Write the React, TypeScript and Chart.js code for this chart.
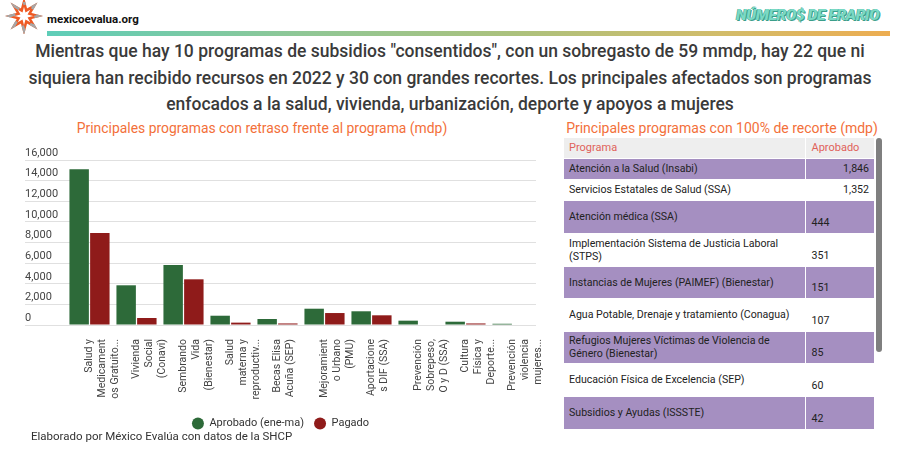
import React, { useEffect, useRef } from "react";
import { Chart, registerables } from "chart.js";

Chart.register(...registerables);

// ---------- DATA ----------
const categories: string[][] = [
  ["Salud y", "Medicament", "os Gratuito..."],
  ["Vivienda", "Social", "(Conavi)"],
  ["Sembrando", "Vida", "(Bienestar)"],
  ["Salud", "materna y", "reproductiv..."],
  ["Becas Elisa", "Acuña (SEP)"],
  ["Mejoramient", "o Urbano", "(PMU)"],
  ["Aportacione", "s DIF (SSA)"],
  ["Prevención", "Sobrepeso,", "O y D (SSA)"],
  ["Cultura", "Física y", "Deporte..."],
  ["Prevención", "violencia", "mujeres..."],
];
const aprobado = [15100, 3850, 5820, 900, 580, 1580, 1330, 420, 320, 120];
const pagado = [8920, 680, 4430, 230, 150, 1160, 940, 0, 150, 0];
const yMin = 0;
const yMax = 16000;
const yStep = 2000;
const seriesNames = ["Aprobado (ene-ma)", "Pagado"];

const tablePrograms = [
  "Atención a la Salud (Insabi)",
  "Servicios Estatales de Salud (SSA)",
  "Atención médica (SSA)",
  "Implementación Sistema de Justicia Laboral (STPS)",
  "Instancias de Mujeres (PAIMEF) (Bienestar)",
  "Agua Potable, Drenaje y tratamiento (Conagua)",
  "Refugios Mujeres Víctimas de Violencia de Género (Bienestar)",
  "Educación Física de Excelencia (SEP)",
  "Subsidios y Ayudas (ISSSTE)",
];
const tableAprobado = [1846, 1352, 444, 351, 151, 107, 85, 60, 42];

const titleLines = [
  'Mientras que hay 10 programas de subsidios "consentidos", con un sobregasto de 59 mmdp, hay 22 que ni',
  "siquiera han recibido recursos en 2022 y 30 con grandes recortes. Los principales afectados son programas",
  "enfocados a la salud, vivienda, urbanización, deporte y apoyos a mujeres",
];

const GREEN = "#2d6a39";
const RED = "#8f1b1a";
const PURPLE = "#a58fc1";
const ORANGE = "#f3703a";
const FONT = "Roboto, 'Noto Sans', sans-serif";

function BarChart() {
  const ref = useRef<HTMLCanvasElement | null>(null);
  useEffect(() => {
    if (!ref.current) return;
    const chart = new Chart(ref.current, {
      type: "bar",
      data: {
        labels: categories,
        datasets: [
          { label: seriesNames[0], data: aprobado, backgroundColor: GREEN, borderWidth: 0 },
          { label: seriesNames[1], data: pagado, backgroundColor: RED, borderWidth: 0 },
        ],
      },
      options: {
        animation: false,
        responsive: false,
        maintainAspectRatio: false,
        layout: { padding: { left: 25, right: 24, top: 20, bottom: 0 } },
        datasets: { bar: { categoryPercentage: 0.88, barPercentage: 0.94 } },
        plugins: {
          legend: {
            position: "bottom",
            labels: {
              usePointStyle: true,
              pointStyle: "circle",
              pointStyleWidth: 12,
              boxHeight: 8.5,
              padding: 10,
              color: "#333",
              font: { family: FONT, size: 11 },
            },
          },
          tooltip: { enabled: false },
        },
        scales: {
          x: {
            grid: { display: false },
            border: { display: false },
            ticks: {
              autoSkip: false,
              maxRotation: 90,
              minRotation: 90,
              padding: 6,
              color: "#444",
              font: { family: FONT, size: 10.5, lineHeight: 13 / 10.5 },
              labelOffset: (ctx: any) => -((categories[ctx.index]?.length ?? 1) - 1) * 13 / 2,
            },
            afterFit: (s: any) => {
              s.height = 83;
            },
          },
          y: {
            min: yMin,
            max: yMax,
            border: { display: false },
            grid: { color: "#e0e0e0", tickLength: 41, drawTicks: true },
            ticks: {
              stepSize: yStep,
              crossAlign: "far",
              labelOffset: -7,
              padding: 0,
              color: "#444",
              font: { family: FONT, size: 11 },
              callback: (v: any) => Number(v).toLocaleString("en-US"),
            },
            afterFit: (s: any) => {
              s.width = 41;
            },
          },
        },
      } as any,
    });
    return () => chart.destroy();
  }, []);
  return (
    <canvas
      ref={ref}
      width={560}
      height={299}
      style={{ position: "absolute", left: 0, top: 140, width: 560, height: 299 }}
    />
  );
}

function Logo() {
  const pts: string[] = [];
  const cx = 24, cy = 16, R = 14, r = 6;
  for (let i = 0; i < 16; i++) {
    const a = (Math.PI * 2 * i) / 16 - Math.PI / 2;
    const rr = i % 2 === 0 ? R : r;
    pts.push(`${(cx + rr * Math.cos(a)).toFixed(1)},${(cy + rr * Math.sin(a)).toFixed(1)}`);
  }
  return (
    <svg width={48} height={34} style={{ position: "absolute", left: 0, top: 0 }}>
      <polygon points={pts.join(" ")} fill="none" stroke="#ef5a24" strokeWidth={2.6} strokeLinejoin="miter" />
      <polygon points={pts.join(" ")} fill="none" stroke="#a6a6a6" strokeWidth={2.6} strokeDasharray="6 12" strokeDashoffset={3} />
    </svg>
  );
}

const rowHeights = [21, 21, 33, 33, 32, 33, 32, 33, 33];

export default function App() {
  return (
    <div
      style={{
        position: "fixed",
        left: 0,
        top: 0,
        width: 900,
        height: 454,
        background: "#fff",
        fontFamily: FONT,
        overflow: "hidden",
      }}
    >
      <Logo />
      <div style={{ position: "absolute", left: 47, top: 12, fontSize: 11.5, fontWeight: 700, color: "#111" }}>
        mexicoevalua.org
      </div>
      <div
        style={{
          position: "absolute",
          left: 47,
          top: 31,
          width: 843,
          height: 5,
          background: "linear-gradient(90deg, #5ecdb8 0%, #8fc796 30%, #abc17d 55%, #d2bc6a 80%, #edad51 100%)",
        }}
      />
      <div
        style={{
          position: "absolute",
          left: 736,
          top: 6,
          fontSize: 15.5,
          fontWeight: 900,
          fontStyle: "italic",
          color: "#7ad9c4",
          letterSpacing: -0.4,
          textShadow: "1px 1px 0 #3b9e8a, -0.5px -0.5px 0 #3b9e8a",
          whiteSpace: "nowrap",
        }}
      >
        NÚMERO$ DE ERARIO
      </div>

      <div
        style={{
          position: "absolute",
          left: 0,
          top: 38,
          width: 900,
          textAlign: "center",
          fontSize: 17.5,
          lineHeight: "26.5px",
          fontWeight: 500,
          color: "#3a3a3a",
          whiteSpace: "nowrap",
        }}
      >
        {titleLines.map((l, i) => (
          <div key={i}>{l}</div>
        ))}
      </div>

      <div
        style={{
          position: "absolute",
          left: 0,
          top: 120,
          width: 524,
          textAlign: "center",
          fontSize: 13.9,
          lineHeight: "16px",
          color: ORANGE,
          whiteSpace: "nowrap",
        }}
      >
        Principales programas con retraso frente al programa (mdp)
      </div>

      <BarChart />

      <div style={{ position: "absolute", left: 31, top: 429, fontSize: 11.5, color: "#333", whiteSpace: "nowrap" }}>
        Elaborado por México Evalúa con datos de la SHCP
      </div>

      <div
        style={{
          position: "absolute",
          left: 544,
          top: 120,
          width: 356,
          textAlign: "center",
          fontSize: 14,
          lineHeight: "16px",
          color: ORANGE,
          whiteSpace: "nowrap",
        }}
      >
        Principales programas con 100% de recorte (mdp)
      </div>

      <div style={{ position: "absolute", left: 564, top: 138, width: 310, height: 292, overflow: "hidden" }}>
        <table
          style={{
            borderCollapse: "collapse",
            width: 310,
            tableLayout: "fixed",
            fontSize: 10.6,
            color: "#222",
          }}
        >
          <colgroup>
            <col style={{ width: 241 }} />
            <col style={{ width: 69 }} />
          </colgroup>
          <thead>
            <tr style={{ height: 20, background: "#eeeeee" }}>
              <th style={{ textAlign: "left", fontWeight: 400, fontSize: 11, color: "#e0625a", padding: "0 5px", borderRight: "1px solid #fff", borderBottom: "1px solid #fff" }}>
                Programa
              </th>
              <th style={{ textAlign: "left", fontWeight: 400, fontSize: 11, color: "#e0625a", padding: "0 6px", borderBottom: "1px solid #fff" }}>
                Aprobado
              </th>
            </tr>
          </thead>
          <tbody>
            {tablePrograms.map((p, i) => {
              const bg = i % 2 === 0 ? PURPLE : "#fff";
              const simple = i < 2;
              return (
                <tr key={i} style={{ height: rowHeights[i], background: bg }}>
                  <td
                    style={{
                      padding: "0 5px",
                      verticalAlign: "middle",
                      lineHeight: "13px",
                      borderRight: "1px solid #fff",
                      borderBottom: "1px solid #fff",
                    }}
                  >
                    {p}
                  </td>
                  <td
                    style={{
                      padding: simple ? "0 5px 0 6px" : "0 5px 4px 6px",
                      textAlign: simple ? "right" : "left",
                      verticalAlign: simple ? "middle" : "bottom",
                      lineHeight: "13px",
                      borderBottom: "1px solid #fff",
                    }}
                  >
                    {tableAprobado[i].toLocaleString("en-US")}
                  </td>
                </tr>
              );
            })}
          </tbody>
        </table>
      </div>
      <div
        style={{
          position: "absolute",
          left: 876,
          top: 138,
          width: 6,
          height: 214,
          borderRadius: 3,
          background: "#7f7f7f",
        }}
      />
    </div>
  );
}
